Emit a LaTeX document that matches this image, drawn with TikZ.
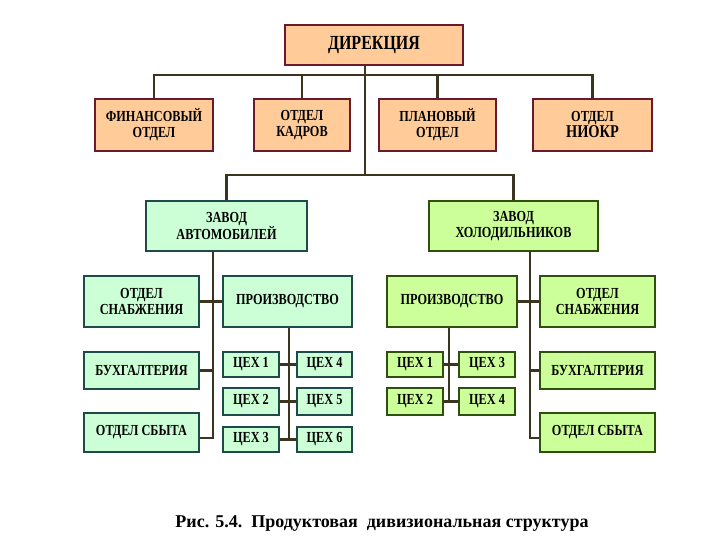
\documentclass[tikz,border=0pt]{standalone}
\usepackage{fontspec}
\setmainfont{Liberation Serif}
\newfontfamily\condfont[FakeStretch=0.8]{Liberation Serif}
\definecolor{orfill}{HTML}{FFCC99}
\definecolor{ordraw}{HTML}{6B1A2E}
\definecolor{mintfill}{HTML}{CCFFD6}
\definecolor{mintdraw}{HTML}{1F4A4A}
\definecolor{limefill}{HTML}{CCFF99}
\definecolor{limedraw}{HTML}{2F4F0F}
\definecolor{wire}{HTML}{3B3520}
\tikzset{
  basebox/.style={draw, line width=1.6pt, inner sep=1pt, align=center,
    font=\condfont\bfseries\fontsize{11.5}{12}\selectfont},
  orbox/.style={basebox, fill=orfill, draw=ordraw},
  mintbox/.style={basebox, fill=mintfill, draw=mintdraw},
  limebox/.style={basebox, fill=limefill, draw=limedraw},
  wireline/.style={draw=wire, line width=1.6pt},
}
\begin{document}
\begin{tikzpicture}[x=0.75pt,y=-0.75pt]
\useasboundingbox (0,0) rectangle (720,540);
% top level
\node[orbox, minimum width=133.5pt, minimum height=30pt,
  font=\condfont\bfseries\fontsize{15}{16}\selectfont] (dir) at (374,45) {ДИРЕКЦИЯ};
\node[orbox, minimum width=88.5pt, minimum height=39pt] (fin) at (154,125) {ФИНАНСОВЫЙ\\ОТДЕЛ};
\node[orbox, minimum width=72pt, minimum height=39pt] (kadr) at (302,125) {ОТДЕЛ\\КАДРОВ};
\node[orbox, minimum width=87.75pt, minimum height=39pt] (plan) at (437.5,125) {ПЛАНОВЫЙ\\ОТДЕЛ};
\node[orbox, minimum width=89.25pt, minimum height=39pt] (niokr) at (592.5,125) {ОТДЕЛ\\{\fontsize{13.5}{14}\selectfont НИОКР}};
\coordinate (trunk) at (365,75);
\coordinate (fork) at (365,175);
% factories
\node[mintbox, minimum width=120.75pt, minimum height=37.5pt] (auto) at (226.5,226) {ЗАВОД\\АВТОМОБИЛЕЙ};
\node[limebox, minimum width=126.75pt, minimum height=37.5pt] (holod) at (513.5,226) {ЗАВОД\\ХОЛОДИЛЬНИКОВ};
% left division
\node[mintbox, minimum width=86.25pt, minimum height=38.25pt] (snabL) at (141.5,301.5) {ОТДЕЛ\\СНАБЖЕНИЯ};
\node[mintbox, minimum width=86.25pt, minimum height=27.75pt] (buhL) at (141.5,370.5) {БУХГАЛТЕРИЯ};
\node[mintbox, minimum width=86.25pt, minimum height=29.25pt] (sbytL) at (141.5,432.5) {ОТДЕЛ СБЫТА};
\node[mintbox, minimum width=96.75pt, minimum height=38.25pt] (prL) at (287.5,301.5) {ПРОИЗВОДСТВО};
\node[mintbox, minimum width=42pt, minimum height=18.75pt] (c1L) at (251,364.5) {ЦЕХ 1};
\node[mintbox, minimum width=42pt, minimum height=20pt] (c2L) at (251,401.5) {ЦЕХ 2};
\node[mintbox, minimum width=42pt, minimum height=18.75pt] (c3L) at (251,439.5) {ЦЕХ 3};
\node[mintbox, minimum width=41.25pt, minimum height=18.75pt] (c4L) at (324.5,364.5) {ЦЕХ 4};
\node[mintbox, minimum width=41.25pt, minimum height=20pt] (c5L) at (324.5,401.5) {ЦЕХ 5};
\node[mintbox, minimum width=41.25pt, minimum height=18.75pt] (c6L) at (324.5,439.5) {ЦЕХ 6};
\coordinate (trL) at (213,438);
\coordinate (colL) at (289,439.5);
% right division
\node[limebox, minimum width=97.5pt, minimum height=38.25pt] (prR) at (452,301.5) {ПРОИЗВОДСТВО};
\node[limebox, minimum width=86.25pt, minimum height=38.25pt] (snabR) at (597.5,301.5) {ОТДЕЛ\\СНАБЖЕНИЯ};
\node[limebox, minimum width=86.25pt, minimum height=27.75pt] (buhR) at (597.5,370.5) {БУХГАЛТЕРИЯ};
\node[limebox, minimum width=86.25pt, minimum height=29.25pt] (sbytR) at (597.5,432.5) {ОТДЕЛ СБЫТА};
\node[limebox, minimum width=42pt, minimum height=18.75pt] (c1R) at (415,364.5) {ЦЕХ 1};
\node[limebox, minimum width=42pt, minimum height=20pt] (c2R) at (415,401.5) {ЦЕХ 2};
\node[limebox, minimum width=42pt, minimum height=18.75pt] (c3R) at (487,364.5) {ЦЕХ 3};
\node[limebox, minimum width=42pt, minimum height=20pt] (c4R) at (487,401.5) {ЦЕХ 4};
\coordinate (trR) at (530,438);
\coordinate (colR) at (449,401.5);
% caption
\node[font=\bfseries\fontsize{13.5}{15}\selectfont] (cap) at (382,524) {Рис. 5.4.\ \ Продуктовая\ \ дивизиональная структура};
% connectors
\path[wireline] (fin.north) |- (trunk) -| (niokr.north);
\path[wireline] (kadr.north) -- (kadr.north |- trunk);
\path[wireline] (plan.north) -- (plan.north |- trunk);
\path[wireline] (dir.south -| trunk) -- (fork);
\path[wireline] (auto.north) |- (fork) -| (holod.north);
% left
\path[wireline] (auto.south -| trL) -- (trL) -- (sbytL.east |- trL);
\path[wireline] (snabL.east) -- (prL.west);
\path[wireline] (buhL.east) -- (buhL.east -| trL);
\path[wireline] (prL.south -| colL) -- (colL);
\path[wireline] (c1L.east) -- (c4L.west);
\path[wireline] (c2L.east) -- (c5L.west);
\path[wireline] (c3L.east) -- (c6L.west);
% right
\path[wireline] (holod.south -| trR) -- (trR) -- (sbytR.west |- trR);
\path[wireline] (prR.east) -- (snabR.west);
\path[wireline] (buhR.west) -- (buhR.west -| trR);
\path[wireline] (prR.south -| colR) -- (colR);
\path[wireline] (c1R.east) -- (c3R.west);
\path[wireline] (c2R.east) -- (c4R.west);
\end{tikzpicture}
\end{document}
